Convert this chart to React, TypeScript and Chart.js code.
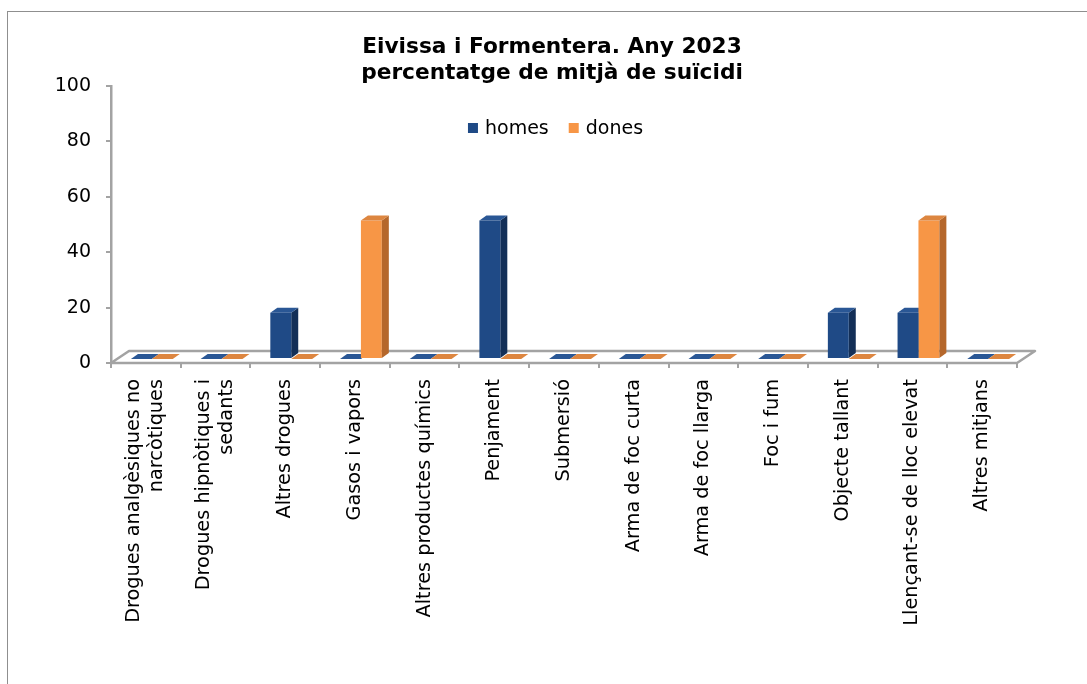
import React, { useEffect, useRef } from "react";
import { Chart, registerables } from "chart.js";

Chart.register(...registerables);

const categories: (string | string[])[] = [
  ["Drogues analgèsiques no", "narcòtiques"],
  ["Drogues hipnòtiques i", "sedants"],
  "Altres drogues",
  "Gasos i vapors",
  "Altres productes químics",
  "Penjament",
  "Submersió",
  "Arma de foc curta",
  "Arma de foc llarga",
  "Foc i fum",
  "Objecte tallant",
  "Llençant-se de lloc elevat",
  "Altres mitjans",
];
const homes = [0, 0, 16.67, 0, 0, 50, 0, 0, 0, 0, 16.67, 16.67, 0];
const dones = [0, 0, 0, 50, 0, 0, 0, 0, 0, 0, 0, 50, 0];
const seriesLabels = ["homes", "dones"];
const titleLines = ["Eivissa i Formentera. Any 2023", "percentatge de mitjà de suïcidi"];
const yTicks = [0, 20, 40, 60, 80, 100];

const FONT = "'DejaVu Sans', Verdana, sans-serif";
const FRONT = ["#1f4a86", "#f79646"];
const SIDE = ["#132f57", "#b5672b"];
const TOP = ["#2a5795", "#dd8640"];
const AXIS = "#a3a3a3";

const FLOOR = { x: 18, y: -12 };
const SHIFT = { x: 6, y: -4 };
const DEPTH = { x: 7, y: -5 };
const X_FONT_SIZE = 19.3;
const X_LINE_HEIGHT = 1.2;

function drawFaces(chart: any, idx: number) {
  const ctx = chart.ctx;
  const meta = chart.getDatasetMeta(idx);
  meta.data.forEach((el: any) => {
    const { x, y, base, width } = el.getProps(["x", "y", "base", "width"], true);
    const l = x - width / 2;
    const r = x + width / 2;
    const top = Math.min(y, base);
    const bot = Math.max(y, base);
    if (bot - top > 0.5) {
      ctx.beginPath();
      ctx.moveTo(r, top);
      ctx.lineTo(r + DEPTH.x, top + DEPTH.y);
      ctx.lineTo(r + DEPTH.x, bot + DEPTH.y);
      ctx.lineTo(r, bot);
      ctx.closePath();
      ctx.fillStyle = SIDE[idx];
      ctx.fill();
    }
    ctx.beginPath();
    ctx.moveTo(l, top);
    ctx.lineTo(r, top);
    ctx.lineTo(r + DEPTH.x, top + DEPTH.y);
    ctx.lineTo(l + DEPTH.x, top + DEPTH.y);
    ctx.closePath();
    ctx.fillStyle = TOP[idx];
    ctx.fill();
  });
}

const threeD = {
  id: "threeD",
  beforeDraw(chart: any) {
    // centre multi-line rotated category labels on their tick
    const scale = chart.scales.x;
    const items = scale.getLabelItems();
    if (!(items as any).__centred) {
      const lh = X_FONT_SIZE * X_LINE_HEIGHT;
      items.forEach((it: any) => {
        if (Array.isArray(it.label) && it.label.length > 1) {
          it.options.translation = [
            it.options.translation[0] - ((it.label.length - 1) * lh) / 2,
            it.options.translation[1],
          ];
        }
      });
      (items as any).__centred = true;
    }
  },
  beforeDatasetsDraw(chart: any) {
    const { ctx, chartArea } = chart;
    const { left, right, bottom } = chartArea;
    ctx.save();
    ctx.beginPath();
    ctx.moveTo(left, bottom);
    ctx.lineTo(right, bottom);
    ctx.lineTo(right + FLOOR.x, bottom + FLOOR.y);
    ctx.lineTo(left + FLOOR.x, bottom + FLOOR.y);
    ctx.closePath();
    ctx.fillStyle = "#ffffff";
    ctx.fill();
    ctx.strokeStyle = AXIS;
    ctx.lineWidth = 2.5;
    ctx.lineJoin = "round";
    ctx.stroke();
    ctx.restore();
  },
  beforeDatasetDraw(chart: any, args: any) {
    chart.ctx.save();
    chart.ctx.translate(SHIFT.x, SHIFT.y);
    // datasets are drawn last-to-first; draw the homes 3D faces before the
    // dones fronts so that the dones bars sit in front of them
    if (args.index === 1) drawFaces(chart, 0);
  },
  afterDatasetDraw(chart: any, args: any) {
    if (args.index === 1) drawFaces(chart, 1);
    chart.ctx.restore();
  },
  afterDraw(chart: any) {
    const { ctx } = chart;
    ctx.save();
    // title
    ctx.fillStyle = "#000";
    ctx.textAlign = "center";
    ctx.textBaseline = "middle";
    ctx.font = `bold 21.7px ${FONT}`;
    titleLines.forEach((t, i) => ctx.fillText(t, chart.width / 2, 35.5 + i * 26));
    // legend
    ctx.textAlign = "left";
    ctx.font = `19px ${FONT}`;
    const box = 10;
    const gapBox = 7;
    const gapItem = 20;
    const widths = seriesLabels.map((t) => box + gapBox + ctx.measureText(t).width);
    const total = widths.reduce((a, b) => a + b, 0) + gapItem * (widths.length - 1);
    let x = 547.5 - total / 2;
    const y = 116;
    seriesLabels.forEach((t, i) => {
      ctx.fillStyle = FRONT[i];
      ctx.fillRect(x, y - box / 2, box, box);
      ctx.fillStyle = "#000";
      ctx.fillText(t, x + box + gapBox, y + 1);
      x += widths[i] + gapItem;
    });
    ctx.restore();
  },
};

export default function App() {
  const ref = useRef<HTMLCanvasElement>(null);
  useEffect(() => {
    if (!ref.current) return;
    const chart = new Chart(ref.current, {
      type: "bar",
      data: {
        labels: categories,
        datasets: [
          {
            label: seriesLabels[0],
            data: homes,
            backgroundColor: FRONT[0],
            categoryPercentage: 0.6,
            barPercentage: 1,
          },
          {
            label: seriesLabels[1],
            data: dones,
            backgroundColor: FRONT[1],
            categoryPercentage: 0.6,
            barPercentage: 1,
          },
        ],
      },
      options: {
        animation: false,
        responsive: false,
        maintainAspectRatio: false,
        layout: { padding: { left: 0, right: 79, top: 74, bottom: 0 } },
        plugins: {
          legend: { display: false },
          tooltip: { enabled: false },
          title: { display: false },
        },
        scales: {
          x: {
            grid: {
              display: true,
              drawOnChartArea: false,
              drawTicks: true,
              tickLength: 5,
              color: AXIS,
              lineWidth: 2,
              offset: true,
            },
            border: { display: false },
            ticks: {
              minRotation: 90,
              maxRotation: 90,
              autoSkip: false,
              padding: 11,
              color: "#000",
              font: { family: FONT, size: X_FONT_SIZE, lineHeight: X_LINE_HEIGHT },
            },
            afterFit: (s: any) => {
              s.height = 329;
            },
          },
          y: {
            min: yTicks[0],
            max: yTicks[yTicks.length - 1],
            afterBuildTicks: (s: any) => {
              s.ticks = yTicks.map((v) => ({ value: v }));
            },
            grid: {
              display: true,
              drawOnChartArea: false,
              drawTicks: true,
              tickLength: 5,
              color: AXIS,
              lineWidth: 2,
            },
            border: { display: true, color: AXIS, width: 2.5 },
            ticks: {
              padding: 15,
              color: "#000",
              font: { family: FONT, size: 19 },
            },
            afterFit: (s: any) => {
              s.width = 103;
            },
          },
        },
      },
      plugins: [threeD],
    });
    return () => chart.destroy();
  }, []);

  return (
    <div style={{ position: "fixed", left: 0, top: 0, width: 1087, height: 684, overflow: "hidden", background: "#fff" }}>
      <div
        style={{
          position: "absolute",
          left: 7,
          top: 11,
          width: 1090,
          height: 690,
          border: "1px solid #8f8f8f",
          boxSizing: "content-box",
        }}
      >
        <canvas ref={ref} width={1088} height={680} style={{ display: "block", width: 1088, height: 680 }} />
      </div>
    </div>
  );
}
